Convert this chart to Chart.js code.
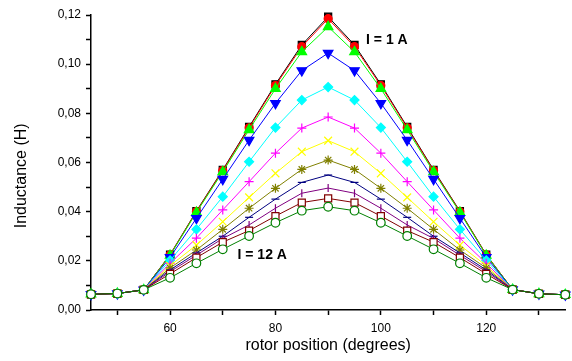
<!DOCTYPE html>
<html>
<head>
<meta charset="utf-8">
<script src="https://cdn.jsdelivr.net/npm/chart.js@4"></script>
<style>
  body { margin: 0; background: #fff; }
  #chart { display: block; }
</style>
</head>
<body>
<canvas id="chart" width="572" height="361"></canvas>
<script>
// rotor position (degrees)
var POSITIONS = [45, 50, 55, 60, 65, 70, 75, 80, 85, 90, 95, 100, 105, 110, 115, 120, 125, 130, 135];

// inductance (H) for each current, I = 1 A ... 12 A
var L_1A  = [0.0064, 0.0067, 0.0082, 0.0225, 0.0402, 0.0570, 0.0745, 0.0918, 0.1078, 0.1193, 0.1078, 0.0918, 0.0745, 0.0570, 0.0402, 0.0225, 0.0083, 0.0066, 0.0062];
var L_2A  = [0.0064, 0.0067, 0.0082, 0.0224, 0.0400, 0.0567, 0.0741, 0.0913, 0.1071, 0.1185, 0.1071, 0.0913, 0.0741, 0.0567, 0.0400, 0.0224, 0.0083, 0.0066, 0.0062];
var L_3A  = [0.0064, 0.0067, 0.0082, 0.0222, 0.0397, 0.0562, 0.0733, 0.0900, 0.1050, 0.1152, 0.1050, 0.0900, 0.0733, 0.0562, 0.0397, 0.0222, 0.0083, 0.0066, 0.0062];
var L_4A  = [0.0064, 0.0067, 0.0082, 0.0214, 0.0373, 0.0532, 0.0691, 0.0841, 0.0974, 0.1045, 0.0974, 0.0841, 0.0691, 0.0532, 0.0373, 0.0214, 0.0083, 0.0066, 0.0062];
var L_5A  = [0.0064, 0.0067, 0.0082, 0.0202, 0.0328, 0.0461, 0.0603, 0.0742, 0.0854, 0.0907, 0.0854, 0.0742, 0.0603, 0.0461, 0.0328, 0.0202, 0.0083, 0.0066, 0.0062];
var L_6A  = [0.0064, 0.0067, 0.0082, 0.0190, 0.0292, 0.0407, 0.0522, 0.0638, 0.0740, 0.0785, 0.0740, 0.0638, 0.0522, 0.0407, 0.0292, 0.0190, 0.0083, 0.0066, 0.0062];
var L_7A  = [0.0064, 0.0067, 0.0082, 0.0180, 0.0264, 0.0359, 0.0458, 0.0556, 0.0644, 0.0689, 0.0644, 0.0556, 0.0458, 0.0359, 0.0264, 0.0180, 0.0083, 0.0066, 0.0062];
var L_8A  = [0.0064, 0.0067, 0.0082, 0.0171, 0.0244, 0.0328, 0.0414, 0.0495, 0.0572, 0.0610, 0.0572, 0.0495, 0.0414, 0.0328, 0.0244, 0.0171, 0.0083, 0.0066, 0.0062];
var L_9A  = [0.0064, 0.0067, 0.0082, 0.0163, 0.0232, 0.0300, 0.0377, 0.0451, 0.0519, 0.0549, 0.0519, 0.0451, 0.0377, 0.0300, 0.0232, 0.0163, 0.0083, 0.0066, 0.0062];
var L_10A = [0.0064, 0.0067, 0.0082, 0.0156, 0.0223, 0.0291, 0.0346, 0.0414, 0.0475, 0.0496, 0.0475, 0.0414, 0.0346, 0.0291, 0.0223, 0.0156, 0.0083, 0.0066, 0.0062];
var L_11A = [0.0064, 0.0067, 0.0082, 0.0147, 0.0213, 0.0276, 0.0323, 0.0382, 0.0437, 0.0454, 0.0437, 0.0382, 0.0323, 0.0276, 0.0213, 0.0147, 0.0083, 0.0066, 0.0062];
var L_12A = [0.0064, 0.0067, 0.0082, 0.0131, 0.0190, 0.0247, 0.0301, 0.0355, 0.0404, 0.0420, 0.0404, 0.0355, 0.0301, 0.0247, 0.0190, 0.0131, 0.0083, 0.0066, 0.0062];

var CURRENTS = ["1 A", "2 A", "3 A", "4 A", "5 A", "6 A", "7 A", "8 A", "9 A", "10 A", "11 A", "12 A"];

// labels drawn on the plot, placed in data units
var NOTES = [
    { text: "I = 1 A", x: 97.2, y: 0.1098 },
    { text: "I = 12 A", x: 72.8, y: 0.0224 }
];

function pts(vals) {
    return vals.map(function (v, i) { return { x: POSITIONS[i], y: v }; });
}

// colour, marker, radius, rotation, filled
var STYLES = [
    ["#000000", "rect",     5,   0,   true],
    ["#ff0000", "circle",   4,   0,   true],
    ["#00ff00", "triangle", 5.5, 0,   true],
    ["#0000ff", "triangle", 5.5, 180, true],
    ["#00ffff", "rectRot",  4.5, 0,   true],
    ["#ff00ff", "cross",    4.5, 0,   false],
    ["#ffff00", "crossRot", 5.5, 0,   false],
    ["#808000", "star",     4.5, 0,   false],
    ["#000080", "line",     4,   0,   false],
    ["#800080", "line",     4,   90,  false],
    ["#800000", "rect",     5,   0,   false],
    ["#008000", "circle",   4.3, 0,   false]
];

var SERIES = [L_1A, L_2A, L_3A, L_4A, L_5A, L_6A, L_7A, L_8A, L_9A, L_10A, L_11A, L_12A];

var datasets = SERIES.map(function (vals, i) {
    var s = STYLES[i];
    return {
        label: "I = " + CURRENTS[i],
        data: pts(vals),
        borderColor: s[0],
        borderWidth: 1,
        backgroundColor: s[4] ? s[0] : "#ffffff",
        pointStyle: s[1],
        pointRadius: s[2],
        pointRotation: s[3],
        pointBorderColor: s[0],
        pointBackgroundColor: s[4] ? s[0] : "#ffffff",
        pointBorderWidth: 1.2,
        tension: 0,
        clip: false,
        order: 11 - i
    };
});

var notesPlugin = {
    id: "notes",
    afterDatasetsDraw: function (chart) {
        var ctx = chart.ctx;
        var xs = chart.scales.x, ys = chart.scales.y;
        ctx.save();
        ctx.fillStyle = "#000";
        ctx.font = "bold 14px 'Liberation Sans', Arial, sans-serif";
        ctx.textAlign = "left";
        ctx.textBaseline = "middle";
        NOTES.forEach(function (n) {
            ctx.fillText(n.text, xs.getPixelForValue(n.x), ys.getPixelForValue(n.y));
        });
        ctx.restore();
    }
};

// x ticks every 5 deg; only every 10 deg gets a tick mark
function onTen(c) {
    return c.tick && Math.round(c.tick.value) % 10 === 0 ? "#000" : "rgba(0,0,0,0)";
}

Chart.defaults.font.family = "'Liberation Sans', Arial, sans-serif";
Chart.defaults.color = "#000";

var ctx = document.getElementById("chart").getContext("2d");
var myChart = new Chart(ctx, {
    type: "line",
    data: { datasets: datasets },
    plugins: [notesPlugin],
    options: {
        responsive: false,
        animation: false,
        devicePixelRatio: 1,
        layout: { padding: { top: 15, right: 6, left: 0, bottom: 0 } },
        plugins: {
            legend: { display: false },
            tooltip: { enabled: false }
        },
        scales: {
            x: {
                type: "linear",
                min: 45,
                max: 135,
                afterFit: function (s) { s.height = 51; },
                border: { color: "#000", width: 1.5 },
                grid: { drawOnChartArea: false, tickLength: 5, tickColor: onTen, tickWidth: 1.5 },
                ticks: {
                    stepSize: 5,
                    autoSkip: false,
                    maxRotation: 0,
                    padding: 6,
                    font: { size: 12 },
                    callback: function (v) {
                        var n = Math.round(v);
                        return n % 20 === 0 ? String(n) : "";
                    }
                },
                title: {
                    display: true,
                    text: "rotor position (degrees)",
                    font: { size: 16 },
                    padding: { top: 0, bottom: 6 }
                }
            },
            y: {
                min: 0,
                max: 0.12,
                afterFit: function (s) { s.width = 91; },
                border: { color: "#000", width: 1.5 },
                grid: { drawOnChartArea: false, tickLength: 5, tickColor: "#000", tickWidth: 1.5 },
                ticks: {
                    stepSize: 0.01,
                    autoSkip: false,
                    padding: 5,
                    font: { size: 12 },
                    callback: function (v) {
                        var n = Math.round(v * 100);
                        return n % 2 === 0 ? (n / 100).toFixed(2).replace(".", ",") : "";
                    }
                },
                title: {
                    display: true,
                    text: "Inductance (H)      ",
                    font: { size: 16 },
                    padding: { top: 12, bottom: 0 }
                }
            }
        }
    }
});
</script>
</body>
</html>
